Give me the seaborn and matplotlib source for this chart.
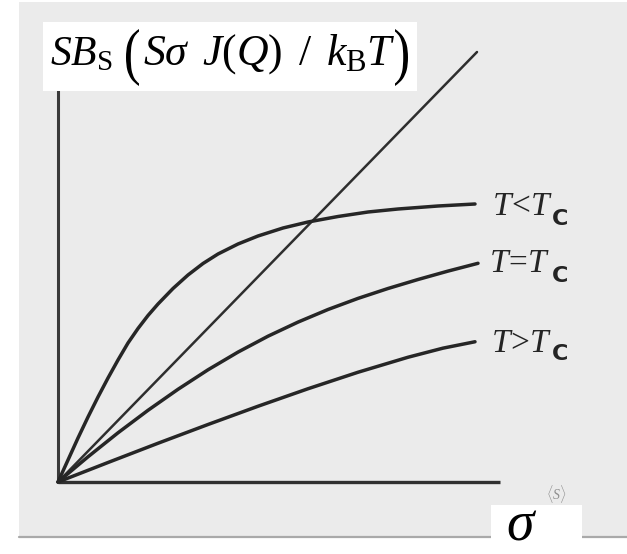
import matplotlib
matplotlib.use("Agg")
import matplotlib.pyplot as plt
import seaborn as sns
from matplotlib.patches import Rectangle, PathPatch
from matplotlib.lines import Line2D
from matplotlib.textpath import TextPath
from matplotlib.font_manager import FontProperties
from matplotlib.transforms import Affine2D, IdentityTransform

# Reduced magnetisation S*B_S versus sigma for three temperatures
sigma_low = [0, 0.1, 0.2, 0.3, 0.4, 0.5, 0.6, 0.7, 0.8, 0.9, 1.0, 1.15, 1.3,
             1.45, 1.6, 1.8, 2.0, 2.25, 2.5, 2.8, 3.1, 3.4, 3.8, 4.17]
bs_low = [0, 0.22, 0.44, 0.65, 0.85, 1.04, 1.22, 1.39, 1.535, 1.665, 1.78, 1.935,
          2.07, 2.185, 2.28, 2.38, 2.46, 2.54, 2.60, 2.655, 2.70, 2.73, 2.76, 2.78]

sigma_crit = [0, 0.3, 0.6, 0.9, 1.2, 1.5, 1.8, 2.1, 2.4, 2.7, 3.0, 3.3, 3.6, 3.9, 4.2]
bs_crit = [0, 0.252, 0.492, 0.717, 0.927, 1.122, 1.299, 1.458, 1.599, 1.725,
           1.836, 1.935, 2.025, 2.109, 2.187]

sigma_high = [0, 0.5, 1.0, 1.5, 2.0, 2.5, 3.0, 3.5, 3.85, 4.17]
bs_high = [0, 0.195, 0.3875, 0.575, 0.7575, 0.9325, 1.0975, 1.2475, 1.3385, 1.4025]

# straight line sigma = S*B_S (self-consistency condition)
sigma_line = [0, 4.19]
bs_line = [0, 4.30]

curve_labels = [(r"T\!<\!T", "C"), (r"T\!=\!T", "C"), (r"T\!>\!T", "C")]
y_title_head = r"$SB_{\mathrm{S}}$"
y_title_arg = r"$S\sigma\,\ J(Q)\,\ /\,\ k_{\mathrm{B}}T$"
x_title = r"$\sigma$"
axis_note = r"$\langle S\rangle$"

sns.set_theme(style="white")
plt.rcParams["font.family"] = ["DejaVu Sans"]
plt.rcParams["mathtext.fontset"] = "custom"
plt.rcParams["mathtext.it"] = "Liberation Serif:italic"
plt.rcParams["mathtext.rm"] = "Liberation Serif"

W, H = 627, 554
fig = plt.figure(figsize=(W / 100, H / 100), dpi=100)
fig.patch.set_facecolor("white")
ax = fig.add_axes([0, 0, 1, 1])
ax.set_zorder(1)
ax.set_xlim(-0.58, 5.69)
ax.set_ylim(-0.72, 4.82)
ax.axis("off")


def px(x, y):
    """Pixel position (from top-left) to figure fraction."""
    return x / W, 1 - y / H


# scanned page background
fig.patches.append(Rectangle(px(19, 537), 1 - 19 / W, (537 - 2) / H,
                             transform=fig.transFigure, facecolor="#ebebeb",
                             edgecolor="none", zorder=0))
fig.lines.append(Line2D([19 / W, 1], [1 - 537 / H, 1 - 537 / H],
                        transform=fig.transFigure, color="#a9a9a9", lw=1.6, zorder=0.5))

ink = "#262626"
# coordinate axes
ax.plot([0, 0], [0, 4.4], color="#3a3a3a", lw=2.2, solid_capstyle="butt", zorder=2)
ax.plot([0, 4.42], [0, 0], color="#303030", lw=2.4, solid_capstyle="butt", zorder=2)

sns.lineplot(x=sigma_line, y=bs_line, ax=ax, color="#2e2e2e", lw=1.8,
             sort=False, estimator=None, zorder=3)
for xs, ys in [(sigma_low, bs_low), (sigma_crit, bs_crit), (sigma_high, bs_high)]:
    sns.lineplot(x=xs, y=ys, ax=ax, color=ink, lw=2.5, sort=False,
                 estimator=None, zorder=4)

# curve labels: serif italic "T<T" with a bold sans subscript C
label_px = [(492, 215, 225), (489, 272, 282), (491, 352, 360)]
for (lx, base, sub_base), (main, sub) in zip(label_px, curve_labels):
    fig.text(*px(lx, base), f"${main}$", fontsize=24, color="#242424",
             ha="left", va="baseline", zorder=3)
    fig.text(*px(552, sub_base), sub, fontsize=16, fontweight="bold",
             family="DejaVu Sans", color="#242424", ha="left", va="baseline", zorder=3)

# faint printed axis label of the scan
fig.text(*px(546, 500), axis_note, fontsize=10, color="#8f8f8f",
         ha="left", va="baseline", zorder=2)

# white boxes carrying the axis titles
fig.patches.append(Rectangle(px(43, 91), (417 - 43) / W, (91 - 22) / H,
                             transform=fig.transFigure, facecolor="white",
                             edgecolor="none", zorder=5))
fig.patches.append(Rectangle((491 / W, 0), (582 - 491) / W, (H - 505) / H,
                             transform=fig.transFigure, facecolor="white",
                             edgecolor="none", zorder=5))
fig.text(*px(50, 65), y_title_head, fontsize=30, color="black",
         ha="left", va="baseline", zorder=6)
fig.text(*px(143, 65), y_title_arg, fontsize=31.5, color="black",
         ha="left", va="baseline", zorder=6)


def tall_paren(ch, x0, x1, top, bottom):
    """Draw a stretched parenthesis filling the pixel box (x0..x1, top..bottom)."""
    path = TextPath((0, 0), ch, size=60, prop=FontProperties(family="Liberation Serif"))
    ext = path.get_extents()
    sx = (x1 - x0) / ext.width
    sy = (bottom - top) / ext.height
    tr = Affine2D().translate(-ext.x0, -ext.y0).scale(sx, sy).translate(x0, H - bottom)
    fig.patches.append(PathPatch(tr.transform_path(path), facecolor="black",
                                 edgecolor="none", zorder=6,
                                 transform=IdentityTransform()))


tall_paren("(", 126, 139, 29, 86)
tall_paren(")", 395, 408, 29, 86)

fig.text(*px(522, 540), x_title, fontsize=40, color="black",
         ha="center", va="baseline", zorder=6)

fig.savefig("out.png", dpi=100, facecolor="white")
